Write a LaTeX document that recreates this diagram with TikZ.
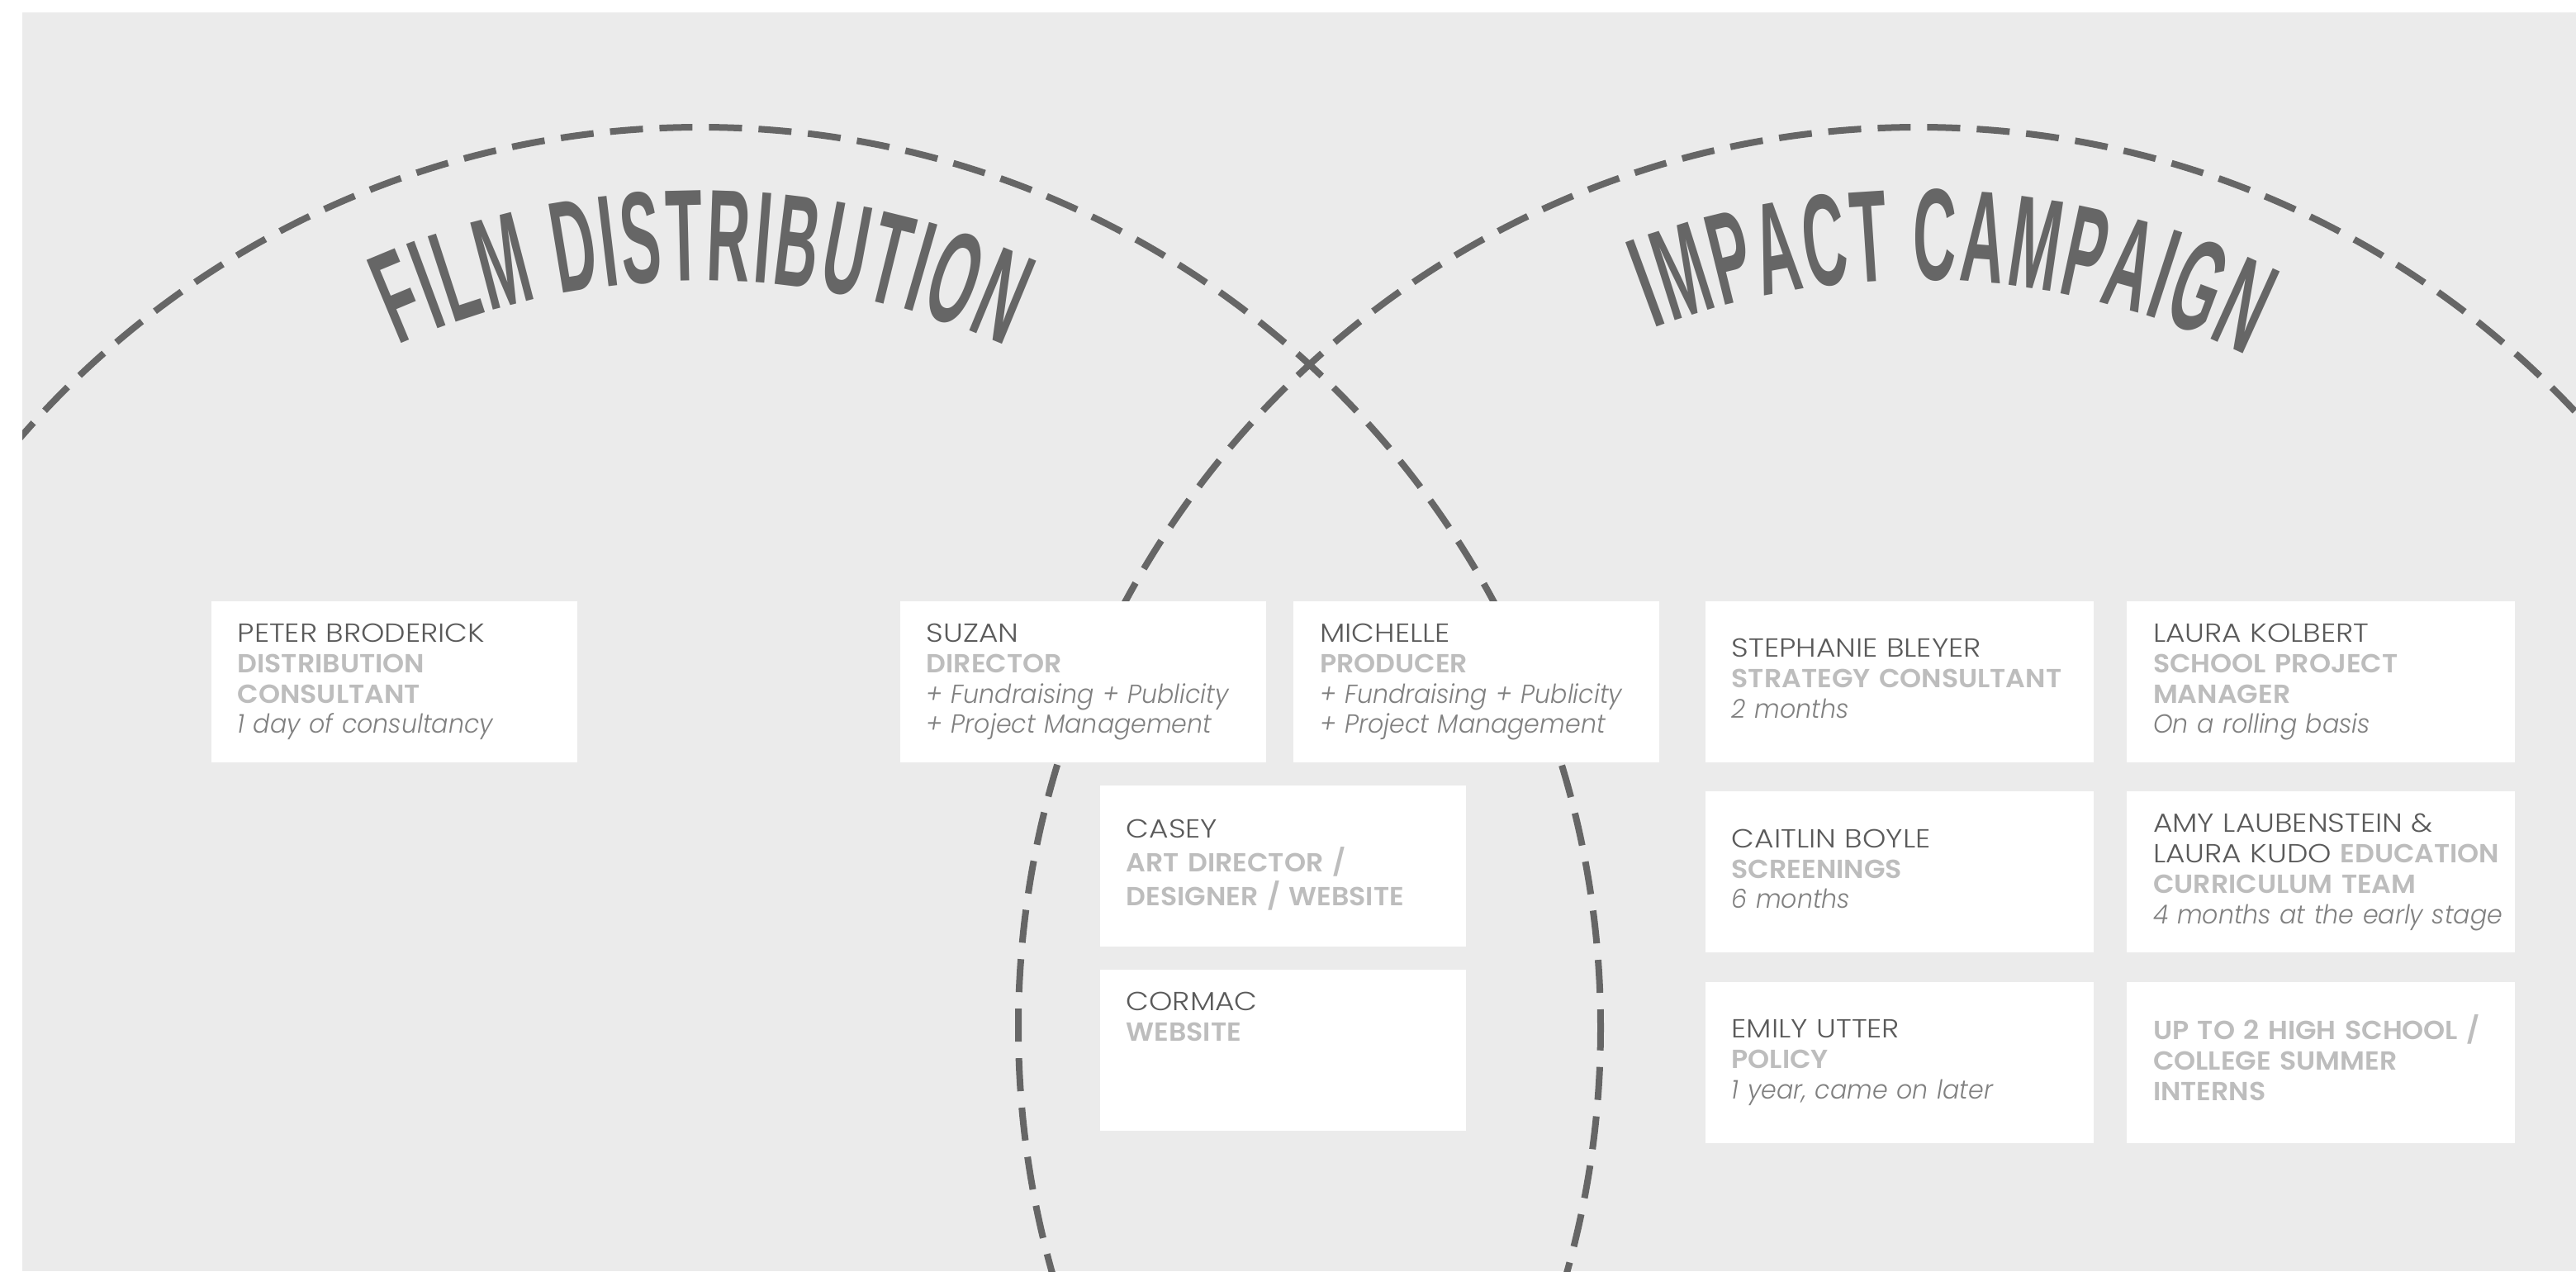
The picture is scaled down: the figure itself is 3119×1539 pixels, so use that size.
\documentclass[tikz,border=0pt]{standalone}
\usepackage{fontspec}
\setmainfont{Poppins}
\newfontfamily\namefont{Poppins Light}[FakeStretch=1.14]
\newfontfamily\notefont{Poppins Light}[FakeStretch=0.95]
\newfontfamily\semifont{Poppins SemiBold}[FakeStretch=1.05]
\newfontfamily\titlefont{Liberation Sans}[FakeStretch=0.46]
\usetikzlibrary{positioning,decorations.text}

\definecolor{paper}{HTML}{EBEBEB}
\definecolor{ink}{HTML}{666666}
\definecolor{namegray}{HTML}{5A5A5A}
\definecolor{rolegray}{HTML}{BDBDBD}
\definecolor{notegray}{HTML}{808080}

\newcommand{\pname}[1]{{\namefont\color{namegray}#1}}
\newcommand{\prole}[1]{{\semifont\color{rolegray}#1}}
\newcommand{\pnote}[1]{{\notefont\itshape\color{notegray}#1}}

\tikzstyle{card} = [rectangle,
                    fill=white,
                    minimum height=19.5mm,
                    inner xsep=3.2mm,
                    inner ysep=0pt,
                    align=left,
                    anchor=north west,
                    font=\fontsize{9}{10.5}\selectfont]
\tikzstyle{narrowcard} = [card, text width=37.9mm]
\tikzstyle{widecard} = [card, text width=40.6mm]
\tikzstyle{ring} = [draw=ink, line width=0.8mm, dash pattern=on 4mm off 2mm, dash phase=1.8mm]
% the kern opens up the tracking of the condensed letters
\tikzstyle{arctitle} = [decorate, decoration={text along path, text align=center,
                        text={|\titlefont\bfseries\fontsize{45}{50}\selectfont\color{ink}\kern0.9pt|#1}}]

\begin{document}
\begin{tikzpicture}[x=0.1mm, y=0.1mm, node distance=3.4mm]
\useasboundingbox (0,0) rectangle (3119,-1539);
\fill[white] (0,0) rectangle (3119,-1539);
\fill[paper] (27,-15) rectangle (3119,-1539);

% the two dashed rings and their curved titles
\begin{scope}
\clip (27,-15) rectangle (3119,-1539);
\begin{scope}[shift={(848,-1244)}]
\draw[ring] (0,0) circle [radius=1090];
\path[arctitle=FILM DISTRIBUTION] (150:904) arc [start angle=150, end angle=30, radius=904];
\end{scope}
\begin{scope}[shift={(2323,-1244)}]
\draw[ring] (0,0) circle [radius=1090];
\path[arctitle=IMPACT CAMPAIGN] (147.5:905) arc [start angle=147.5, end angle=27.5, radius=905];
\end{scope}
\end{scope}

% film distribution side
\node (peter) [narrowcard] at (255,-727) {\begin{tabular}{@{}l@{}} \pname{PETER BRODERICK} \\ \prole{DISTRIBUTION} \\ \prole{CONSULTANT} \\ \pnote{1 day of consultancy} \end{tabular}};

% overlap
\node (suzan) [narrowcard] at (1089,-727) {\begin{tabular}{@{}l@{}} \pname{SUZAN} \\ \prole{DIRECTOR} \\ \pnote{+ Fundraising + Publicity} \\ \pnote{+ Project Management} \end{tabular}};
\node (michelle) [narrowcard, right=3.2mm of suzan] {\begin{tabular}{@{}l@{}} \pname{MICHELLE} \\ \prole{PRODUCER} \\ \pnote{+ Fundraising + Publicity} \\ \pnote{+ Project Management} \end{tabular}};
\node (casey) [narrowcard] at (1331,-950) {\begin{tabular}{@{}l@{}} \pname{CASEY} \\ \prole{ART DIRECTOR /} \\ \prole{DESIGNER / WEBSITE} \end{tabular}};
\node (cormac) [narrowcard, below=2.7mm of casey] {\begin{tabular}{@{}l@{}} \pname{CORMAC} \\ \prole{WEBSITE} \\ \\ \\ \end{tabular}};

% impact campaign side
\node (stephanie) [widecard] at (2064,-727) {\begin{tabular}{@{}l@{}} \pname{STEPHANIE BLEYER} \\ \prole{STRATEGY CONSULTANT} \\ \pnote{2 months} \end{tabular}};
\node (caitlin) [widecard, below= of stephanie] {\begin{tabular}{@{}l@{}} \pname{CAITLIN BOYLE} \\ \prole{SCREENINGS} \\ \pnote{6 months} \end{tabular}};
\node (emily) [widecard, below= of caitlin] {\begin{tabular}{@{}l@{}} \pname{EMILY UTTER} \\ \prole{POLICY} \\ \pnote{1 year, came on later} \end{tabular}};
\node (laura) [widecard, right=3.9mm of stephanie] {\begin{tabular}{@{}l@{}} \pname{LAURA KOLBERT} \\ \prole{SCHOOL PROJECT} \\ \prole{MANAGER} \\ \pnote{On a rolling basis} \end{tabular}};
\node (amy) [widecard, below= of laura] {\begin{tabular}{@{}l@{}} \pname{AMY LAUBENSTEIN \&} \\ \pname{LAURA KUDO} \prole{EDUCATION} \\ \prole{CURRICULUM TEAM} \\ \pnote{4 months at the early stage} \end{tabular}};
\node (interns) [widecard, below= of amy] {\begin{tabular}{@{}l@{}} \prole{UP TO 2 HIGH SCHOOL /} \\ \prole{COLLEGE SUMMER} \\ \prole{INTERNS} \end{tabular}};
\end{tikzpicture}
\end{document}
